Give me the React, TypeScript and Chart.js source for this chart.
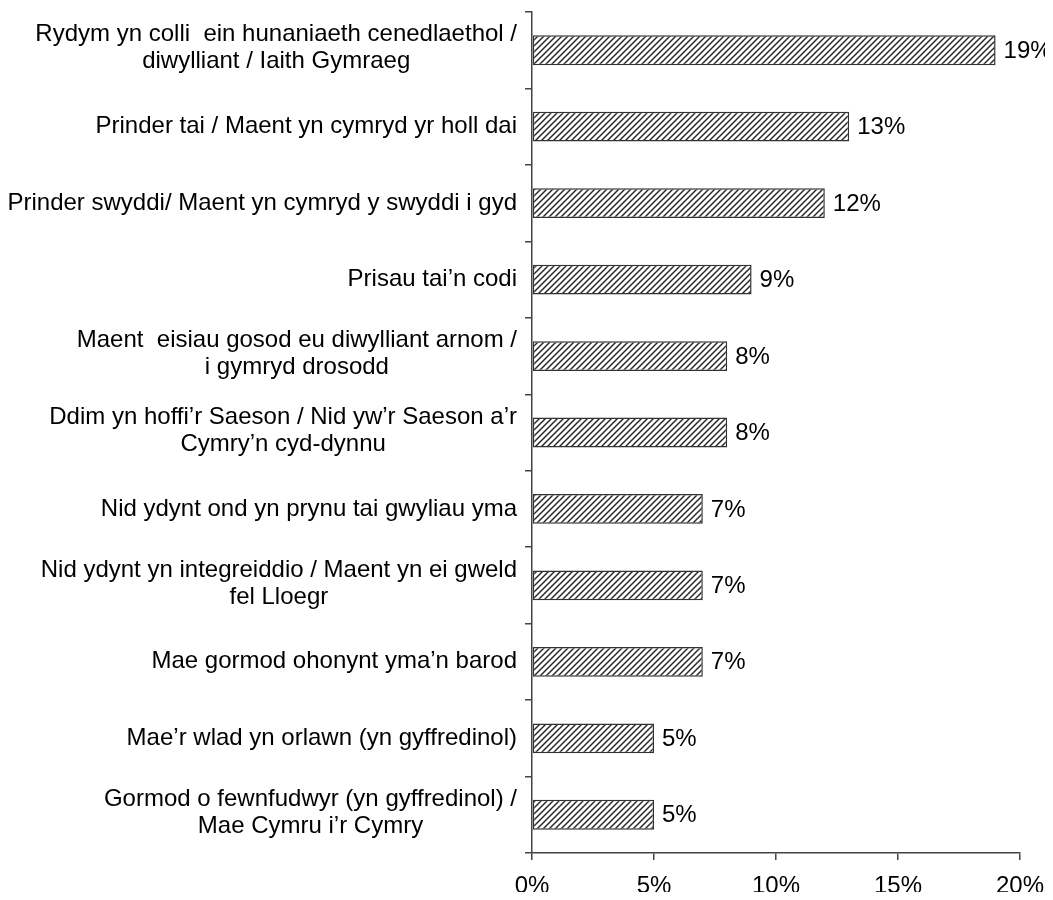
import React, { useEffect, useRef } from "react";
import { Chart, registerables } from "chart.js";

Chart.register(...registerables);

const categories: string[][] = [
  ["Rydym yn colli  ein hunaniaeth cenedlaethol /", "diwylliant / Iaith Gymraeg"],
  ["Prinder tai / Maent yn cymryd yr holl dai"],
  ["Prinder swyddi/ Maent yn cymryd y swyddi i gyd"],
  ["Prisau tai\u2019n codi"],
  ["Maent  eisiau gosod eu diwylliant arnom /", "i gymryd drosodd"],
  ["Ddim yn hoffi\u2019r Saeson / Nid yw\u2019r Saeson a\u2019r", "Cymry\u2019n cyd-dynnu"],
  ["Nid ydynt ond yn prynu tai gwyliau yma"],
  ["Nid ydynt yn integreiddio / Maent yn ei gweld", "fel Lloegr"],
  ["Mae gormod ohonynt yma\u2019n barod"],
  ["Mae\u2019r wlad yn orlawn (yn gyffredinol)"],
  ["Gormod o fewnfudwyr (yn gyffredinol) /", "Mae Cymru i\u2019r Cymry"],
];
const values: number[] = [19, 13, 12, 9, 8, 8, 7, 7, 7, 5, 5];
const xTicks: number[] = [0, 5, 10, 15, 20];

const FONT = "'Liberation Sans', Arial, sans-serif";
const FONT_SIZE = 24;

function makePattern(): CanvasPattern | string {
  const c = document.createElement("canvas");
  const s = 6;
  c.width = s;
  c.height = s;
  const ctx = c.getContext("2d");
  if (!ctx) return "#999";
  ctx.fillStyle = "#ffffff";
  ctx.fillRect(0, 0, s, s);
  ctx.strokeStyle = "#2a2a2a";
  ctx.lineWidth = 1.5;
  ctx.beginPath();
  ctx.moveTo(-1, s + 1);
  ctx.lineTo(s + 1, -1);
  ctx.moveTo(-1, 1);
  ctx.lineTo(1, -1);
  ctx.moveTo(s - 1, s + 1);
  ctx.lineTo(s + 1, s - 1);
  ctx.stroke();
  const p = ctx.createPattern(c, "repeat");
  return p || "#999";
}

const labelPlugin = {
  id: "customLabels",
  afterDraw(chart: any) {
    const ctx = chart.ctx;
    const y = chart.scales.y;
    const meta = chart.getDatasetMeta(0);
    ctx.save();
    ctx.fillStyle = "#000";
    ctx.font = `${FONT_SIZE}px ${FONT}`;
    ctx.textBaseline = "middle";
    const lineH = 27;
    const right = chart.chartArea.left - 15;
    categories.forEach((lines, i) => {
      const cy = y.getPixelForTick(i);
      const maxW = Math.max(...lines.map((l) => ctx.measureText(l).width));
      const cx = right - maxW / 2;
      ctx.textAlign = "center";
      const start = cy - ((lines.length - 1) * lineH) / 2 - (lines.length > 1 ? 2 : 0);
      lines.forEach((l, j) => ctx.fillText(l, cx, start + j * lineH));
    });
    ctx.textAlign = "left";
    meta.data.forEach((bar: any, i: number) => {
      ctx.fillText(values[i] + "%", bar.x + 8, bar.y + 1);
    });
    ctx.restore();
  },
};

export default function App() {
  const ref = useRef<HTMLCanvasElement | null>(null);
  useEffect(() => {
    if (!ref.current) return;
    const pattern = makePattern();
    const chart = new Chart(ref.current, {
      type: "bar",
      data: {
        labels: categories.map((c) => c.join(" ")),
        datasets: [
          {
            data: values,
            backgroundColor: pattern as any,
            borderColor: "#333333",
            borderWidth: 1.5,
            borderSkipped: false,
            barPercentage: 0.39,
            categoryPercentage: 1,
          },
        ],
      },
      options: {
        indexAxis: "y",
        animation: false,
        responsive: false,
        maintainAspectRatio: false,
        layout: { padding: { top: 4, right: 33, left: 0, bottom: 0 } },
        plugins: { legend: { display: false }, tooltip: { enabled: false } },
        scales: {
          x: {
            min: 0,
            max: 20,
            afterBuildTicks: (s: any) => {
              s.ticks = xTicks.map((v) => ({ value: v }));
            },
            afterFit: (s: any) => {
              s.height = 47;
              s.paddingLeft = 0;
              s.paddingRight = 0;
            },
            ticks: {
              color: "#000",
              font: { family: FONT, size: FONT_SIZE },
              padding: 12,
              maxRotation: 0,
              callback: (v: any) => v + "%",
            },
            grid: {
              drawOnChartArea: false,
              drawTicks: true,
              tickLength: 7,
              color: "#444",
              lineWidth: 1.5,
            },
            border: { display: true, color: "#444", width: 1.5 },
          },
          y: {
            afterFit: (s: any) => {
              s.width = 524;
            },
            ticks: { display: false },
            grid: {
              offset: true,
              drawOnChartArea: false,
              drawTicks: true,
              tickLength: 7,
              color: "#444",
              lineWidth: 1.5,
            },
            border: { display: true, color: "#444", width: 1.5 },
          },
        },
      },
      plugins: [labelPlugin],
    });
    return () => chart.destroy();
  }, []);
  return (
    <div style={{ width: 1045, height: 892, marginBottom: -8 }}>
      <canvas ref={ref} width={1045} height={892} style={{ display: "block" }} />
    </div>
  );
}
